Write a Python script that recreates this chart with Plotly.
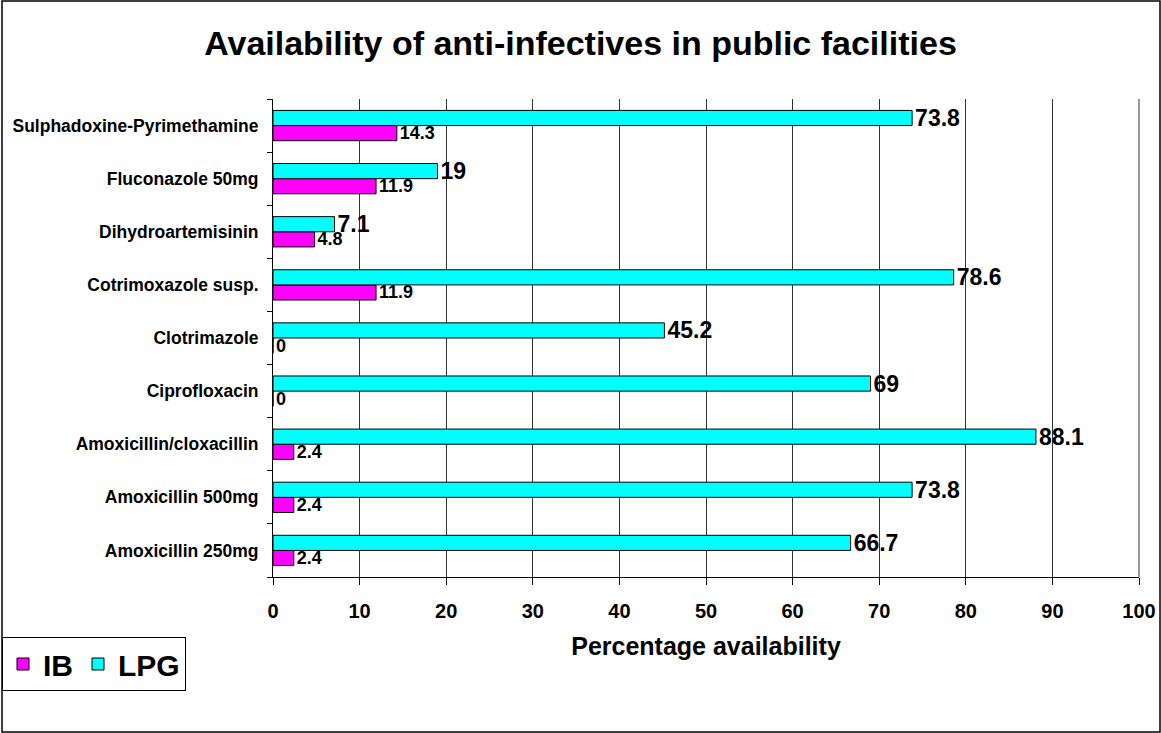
import plotly.graph_objects as go

categories = ["Amoxicillin 250mg", "Amoxicillin 500mg", "Amoxicillin/cloxacillin",
              "Ciprofloxacin", "Clotrimazole", "Cotrimoxazole susp.",
              "Dihydroartemisinin", "Fluconazole 50mg", "Sulphadoxine-Pyrimethamine"]
ib_values = [2.4, 2.4, 2.4, 0, 0, 11.9, 4.8, 11.9, 14.3]
lpg_values = [66.7, 73.8, 88.1, 69, 45.2, 78.6, 7.1, 19, 73.8]
x_ticks = [0, 10, 20, 30, 40, 50, 60, 70, 80, 90, 100]

W, H = 1161, 733
L, R, T, B = 273, 22, 99, 156
pw, ph = W - L - R, H - T - B

FONT = "Liberation Sans, Arial, sans-serif"

def fmt(v):
    return ("%g" % v)

fig = go.Figure()
fig.add_trace(go.Bar(
    y=categories, x=ib_values, orientation="h", name="IB",
    marker=dict(color="#FF00FF", line=dict(color="black", width=1)),
    text=[fmt(v) for v in ib_values], textposition="outside",
    constraintext="none",
    textfont=dict(family=FONT, size=18, color="black", weight="bold"),
    cliponaxis=False,
))
fig.add_trace(go.Bar(
    y=categories, x=lpg_values, orientation="h", name="LPG",
    marker=dict(color="#00FFFF", line=dict(color="black", width=1)),
    text=[fmt(v) for v in lpg_values], textposition="outside",
    constraintext="none",
    textfont=dict(family=FONT, size=23, color="black", weight="bold"),
    cliponaxis=False,
))

# outer border in paper coords
x0 = -(L - 2) / pw
x1 = 1 + (R - 1) / pw
y0 = -(B - 1) / ph
y1 = 1 + (T - 1) / ph

fig.update_layout(
    width=W, height=H,
    margin=dict(l=L, r=R, t=T, b=B, autoexpand=False),
    paper_bgcolor="white", plot_bgcolor="white",
    barmode="group", bargap=0.43, bargroupgap=0,
    font=dict(family=FONT, color="black"),
    title=dict(text="<b>Availability of anti-infectives in public facilities</b>",
               x=0.5, xanchor="center", y=1 - 43 / H, yanchor="middle",
               font=dict(family=FONT, size=34, color="black")),
    xaxis=dict(range=[0, 100], tickvals=x_ticks, showgrid=True,
               gridcolor="#333333", gridwidth=1,
               showline=True, linecolor="black", linewidth=1,
               ticks="outside", ticklen=7, tickcolor="black",
               ticklabelstandoff=9,
               tickfont=dict(family=FONT, size=20, color="black", weight="bold"),
               title=dict(text="<b>Percentage availability</b>", standoff=16,
                          font=dict(family=FONT, size=25, color="black")),
               zeroline=False, fixedrange=True),
    yaxis=dict(categoryorder="array", categoryarray=categories,
               showline=True, linecolor="black", linewidth=1,
               ticks="outside", ticklen=5, tickcolor="black",
               tickson="boundaries", ticklabelstandoff=10,
               showgrid=False,
               tickfont=dict(family=FONT, size=17.5, color="black", weight="bold"),
               fixedrange=True),
    legend=dict(orientation="h", x=(2 - L) / pw, y=-(637 - T - ph) / ph,
                xanchor="left", yanchor="top",
                bordercolor="black", borderwidth=1, bgcolor="white",
                font=dict(family=FONT, size=30, color="black", weight="bold"),
                traceorder="normal", itemwidth=30, tracegroupgap=0),
    shapes=[
        dict(type="rect", xref="paper", yref="paper", x0=x0, x1=x1, y0=y0, y1=y1,
             line=dict(color="black", width=1.5), layer="above"),
        dict(type="line", xref="paper", yref="paper", x0=1, x1=1, y0=0, y1=1,
             line=dict(color="#333333", width=1)),
    ],
    showlegend=True,
)

fig.write_html("out.html")
